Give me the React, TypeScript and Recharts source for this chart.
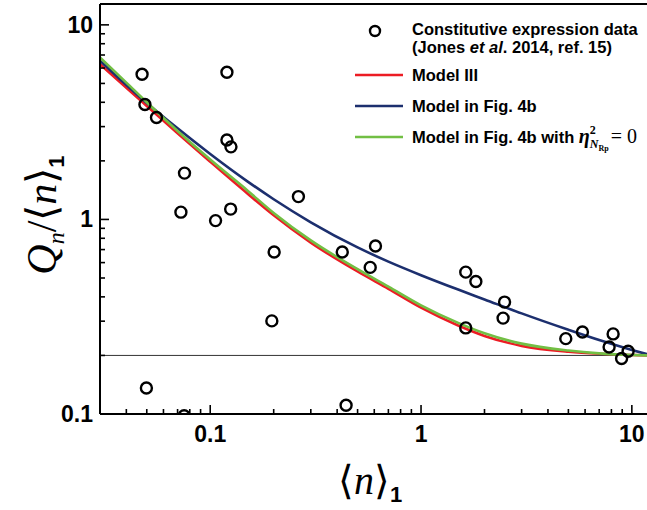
import React from 'react';
import { ComposedChart, Line, Scatter, XAxis, YAxis, ReferenceLine } from 'recharts';

// model curves, sampled on a common grid of <n>_1 values
const curveX = [0.03, 0.04, 0.05, 0.07, 0.1, 0.15, 0.2, 0.3, 0.5, 0.7, 1, 1.5, 2, 3, 5, 7, 10, 11.8];
const modelIII = [6.28, 4.75, 3.83, 2.77, 1.98, 1.36, 1.05, 0.76, 0.54, 0.44, 0.352, 0.285, 0.252, 0.224, 0.209, 0.204, 0.201, 0.2];
const modelFig4b = [6.55, 4.91, 3.97, 2.94, 2.17, 1.57, 1.27, 0.967, 0.718, 0.607, 0.517, 0.436, 0.388, 0.329, 0.271, 0.24, 0.2135, 0.203];
const modelFig4bEta0 = [6.8, 5.05, 4.0, 2.85, 2.03, 1.41, 1.08, 0.78, 0.555, 0.452, 0.362, 0.294, 0.26, 0.23, 0.212, 0.205, 0.201, 0.2];

// constitutive expression data (Jones et al. 2014)
const dataMean = [
  0.0475, 0.049, 0.0556, 0.12, 0.12, 0.1254, 0.0755, 0.0726, 0.106, 0.125,
  0.262, 0.201, 0.196, 0.423, 0.608, 0.574, 1.63, 1.82, 1.63, 2.49,
  2.45, 0.0498, 0.441, 0.0752, 4.86, 5.83, 8.15, 7.8, 8.94, 9.6,
];
const dataNoise = [
  5.57, 3.9, 3.34, 5.71, 2.56, 2.36, 1.73, 1.09, 0.986, 1.13,
  1.31, 0.68, 0.301, 0.68, 0.73, 0.567, 0.536, 0.48, 0.277, 0.376,
  0.311, 0.136, 0.111, 0.098, 0.244, 0.264, 0.258, 0.221, 0.193, 0.21,
];

const xTicks = [0.04, 0.05, 0.06, 0.07, 0.08, 0.09, 0.1, 0.2, 0.3, 0.4, 0.5, 0.6, 0.7, 0.8, 0.9, 1, 2, 3, 4, 5, 6, 7, 8, 9, 10];
const yTicks = [0.1, 0.2, 0.3, 0.4, 0.5, 0.6, 0.7, 0.8, 0.9, 1, 2, 3, 4, 5, 6, 7, 8, 9, 10];
const majorTicks = [0.1, 1, 10];
const floorLevel = 0.2;

const X_DOMAIN = [0.03, 11.8];
const Y_DOMAIN = [0.1, 12.8];

const toSeries = (ys: number[]) => curveX.map((x, i) => ({ x, y: ys[i] }));
const points = dataMean.map((x, i) => ({ x, y: dataNoise[i] }));

const isMajor = (v: number) => majorTicks.some((m) => Math.abs(m - v) < 1e-9);

const tickFont = {
  fontFamily: '"Liberation Sans", Arial, sans-serif',
  fontWeight: 700,
  fontSize: 23,
  fill: '#000',
};

const XTick = (props: any) => {
  const { x, y, payload } = props;
  const major = isMajor(payload.value);
  return (
    <g>
      <line x1={x} y1={y} x2={x} y2={y - (major ? 9 : 5)} stroke="#000" strokeWidth={1.6} />
      {major && (
        <text x={x} y={y + 28} textAnchor="middle" {...tickFont}>
          {String(payload.value)}
        </text>
      )}
    </g>
  );
};

const YTick = (props: any) => {
  const { x, y, payload } = props;
  const major = isMajor(payload.value);
  return (
    <g>
      <line x1={x} y1={y} x2={x + (major ? 9 : 5)} y2={y} stroke="#000" strokeWidth={1.6} />
      {major && (
        <text x={x - 7} y={y + 8} textAnchor="end" {...tickFont}>
          {String(payload.value)}
        </text>
      )}
    </g>
  );
};

const Ring = (props: any) => (
  <circle cx={props.cx} cy={props.cy} r={5.5} fill="none" stroke="#000" strokeWidth={2.4} />
);

const legendFont = {
  fontFamily: '"Liberation Sans", Arial, sans-serif',
  fontWeight: 700,
  fontSize: 16.5,
  fill: '#000',
};
const serif = '"Liberation Serif", "Times New Roman", serif';

const Overlay = () => (
  <svg width={647} height={510} style={{ position: 'absolute', left: 0, top: 0, pointerEvents: 'none' }}>
    {/* legend */}
    <circle cx={375} cy={31} r={5} fill="none" stroke="#000" strokeWidth={2.4} />
    <text x={412} y={35} {...legendFont}>Constitutive expression data</text>
    <text x={412} y={53} {...legendFont}>
      (Jones <tspan fontStyle="italic">et al</tspan>. 2014, ref. 15)
    </text>
    <line x1={355} y1={75} x2={403} y2={75} stroke="#ec1c24" strokeWidth={2.6} />
    <text x={412} y={81} {...legendFont}>Model III</text>
    <line x1={355} y1={106} x2={403} y2={106} stroke="#1c2f6e" strokeWidth={2.6} />
    <text x={412} y={112} {...legendFont}>Model in Fig. 4b</text>
    <line x1={355} y1={137} x2={403} y2={137} stroke="#72bf44" strokeWidth={2.6} />
    <text x={412} y={143} {...legendFont}>
      Model in Fig. 4b with{' '}
      <tspan fontFamily={serif} fontStyle="italic" fontWeight={700} fontSize={20}>η</tspan>
      <tspan fontFamily={serif} fontSize={12} dy={-9}>2</tspan>
      <tspan fontFamily={serif} fontStyle="italic" fontSize={12} dx={-6} dy={14}>N</tspan>
      <tspan fontFamily={serif} fontSize={8} dy={3}>Rp</tspan>
      <tspan fontFamily={serif} fontWeight={400} fontSize={20} dx={2} dy={-8}>= 0</tspan>
    </text>

    {/* x axis title */}
    <text x={370} y={494} textAnchor="middle" fontFamily={serif} fontSize={40} fill="#000">
      ⟨<tspan fontStyle="italic">n</tspan>⟩
      <tspan fontFamily='"Liberation Sans", Arial, sans-serif' fontWeight={700} fontSize={22} dy={8}>1</tspan>
    </text>

    {/* y axis title */}
    <g transform="translate(56, 215) rotate(-90)">
      <text x={0} y={0} textAnchor="middle" fontFamily={serif} fontSize={42} fill="#000">
        <tspan fontStyle="italic">Q</tspan>
        <tspan fontStyle="italic" fontSize={24} dy={8}>n</tspan>
        <tspan dy={-8}>/⟨</tspan>
        <tspan fontStyle="italic">n</tspan>⟩
        <tspan fontFamily='"Liberation Sans", Arial, sans-serif' fontWeight={700} fontSize={22} dy={8}>1</tspan>
      </text>
    </g>
  </svg>
);

export default function App() {
  return (
    <div style={{ position: 'absolute', left: 0, top: 0, width: 647, height: 510, background: '#fff' }}>
      <ComposedChart width={647} height={510} margin={{ top: 4, right: 0, bottom: 0, left: 0 }}>
        <XAxis
          type="number"
          dataKey="x"
          scale="log"
          domain={X_DOMAIN}
          allowDataOverflow
          ticks={xTicks}
          interval={0}
          tick={<XTick />}
          tickLine={false}
          tickSize={0}
          tickMargin={0}
          height={96}
          axisLine={{ stroke: '#000', strokeWidth: 2 }}
        />
        <YAxis
          type="number"
          dataKey="y"
          scale="log"
          domain={Y_DOMAIN}
          allowDataOverflow
          ticks={yTicks}
          interval={0}
          tick={<YTick />}
          tickLine={false}
          tickSize={0}
          tickMargin={0}
          width={100}
          axisLine={{ stroke: '#000', strokeWidth: 2 }}
        />
        <ReferenceLine y={Y_DOMAIN[1]} stroke="#000" strokeWidth={2} />
        <ReferenceLine y={floorLevel} stroke="#333" strokeWidth={1} />
        <Line data={toSeries(modelIII)} dataKey="y" type="monotone" stroke="#ec1c24" strokeWidth={2.6} dot={false} isAnimationActive={false} />
        <Line data={toSeries(modelFig4b)} dataKey="y" type="monotone" stroke="#1c2f6e" strokeWidth={2.6} dot={false} isAnimationActive={false} />
        <Line data={toSeries(modelFig4bEta0)} dataKey="y" type="monotone" stroke="#72bf44" strokeWidth={2.6} dot={false} isAnimationActive={false} />
        <Scatter data={points} dataKey="y" shape={<Ring />} isAnimationActive={false} />
      </ComposedChart>
      <Overlay />
    </div>
  );
}
